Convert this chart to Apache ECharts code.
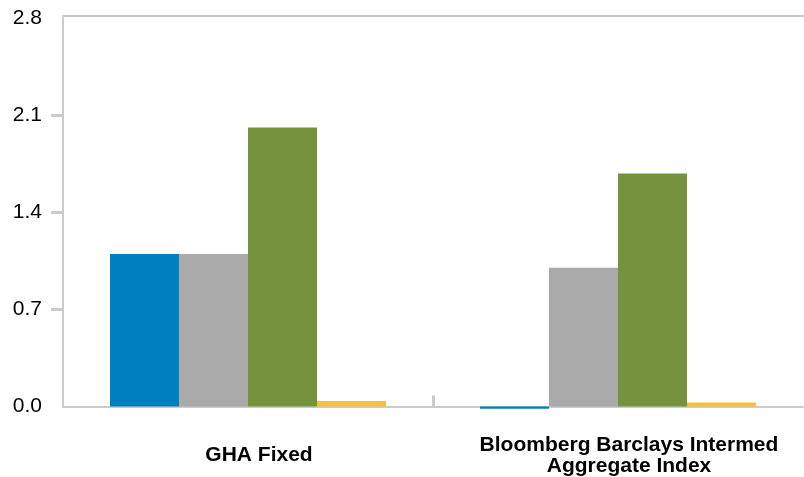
<!DOCTYPE html>
<html>
<head>
<meta charset="utf-8">
<style>
html,body{margin:0;padding:0;background:#fff;}
#chart{width:804px;height:477px;}
</style>
<script src="https://cdn.jsdelivr.net/npm/echarts@6/dist/echarts.min.js"></script>
</head>
<body>
<div id="chart"></div>
<script>
var categories = ['GHA Fixed', 'Bloomberg Barclays Intermed\nAggregate Index'];
var seriesBlue = [1.10, -0.016];
var seriesGray = [1.10, 1.00];
var seriesGreen = [2.01, 1.68];
var seriesYellow = [0.04, 0.028];
var yTicks = [0.7, 1.4, 2.1];
var boundarySlots = ['', '', ''];

var colors = ['#0080C0', '#AAAAAA', '#76923C', '#F3C13A'];
var chart = echarts.init(document.getElementById('chart'));
var axisGray = '#C8CCCF';
function bar(name, data, color) {
  return {
    name: name, type: 'bar', data: data,
    barGap: '0%', barCategoryGap: '25.4%',
    clip: false,
    itemStyle: { color: color },
    animation: false
  };
}
chart.setOption({
  animation: false,
  grid: { left: 63, right: 1, top: 18, bottom: 70.5 },
  xAxis: [{
    type: 'category',
    data: categories,
    axisLine: { lineStyle: { color: axisGray, width: 2 } },
    axisTick: { show: false },
    axisLabel: {
      fontFamily: 'Liberation Sans, Arial, sans-serif',
      fontSize: 21, fontWeight: 'bold', color: '#000',
      verticalAlign: 'middle', lineHeight: 21, margin: 49,
      padding: [0, 0, 0, 22],
      interval: 0
    }
  }, {
    type: 'category',
    data: categories,
    position: 'top',
    offset: 2,
    axisLine: { lineStyle: { color: '#C4C4C4', width: 2 } },
    axisTick: { show: false },
    axisLabel: { show: false }
  }, {
    type: 'category',
    data: boundarySlots,
    position: 'bottom',
    boundaryGap: false,
    axisLine: { show: false },
    axisLabel: { show: false },
    axisTick: {
      show: true, inside: true, length: 11,
      interval: function (idx) { return idx === 1; },
      lineStyle: { color: axisGray, width: 3 }
    }
  }],
  yAxis: {
    type: 'value',
    min: 0, max: 2.8, interval: 0.7,
    axisLine: { show: true, lineStyle: { color: axisGray, width: 2 } },
    axisTick: { show: true, length: 12, customValues: yTicks, lineStyle: { color: axisGray, width: 3 } },
    splitLine: { show: false },
    axisLabel: {
      fontFamily: 'Liberation Sans, Arial, sans-serif',
      fontSize: 21, color: '#000', margin: 21,
      formatter: function (v) { return v.toFixed(1); }
    }
  },
  series: [
    bar('A', seriesBlue, colors[0]),
    bar('B', seriesGray, colors[1]),
    bar('C', seriesGreen, colors[2]),
    bar('D', seriesYellow, colors[3])
  ]
});
</script>
</body>
</html>
